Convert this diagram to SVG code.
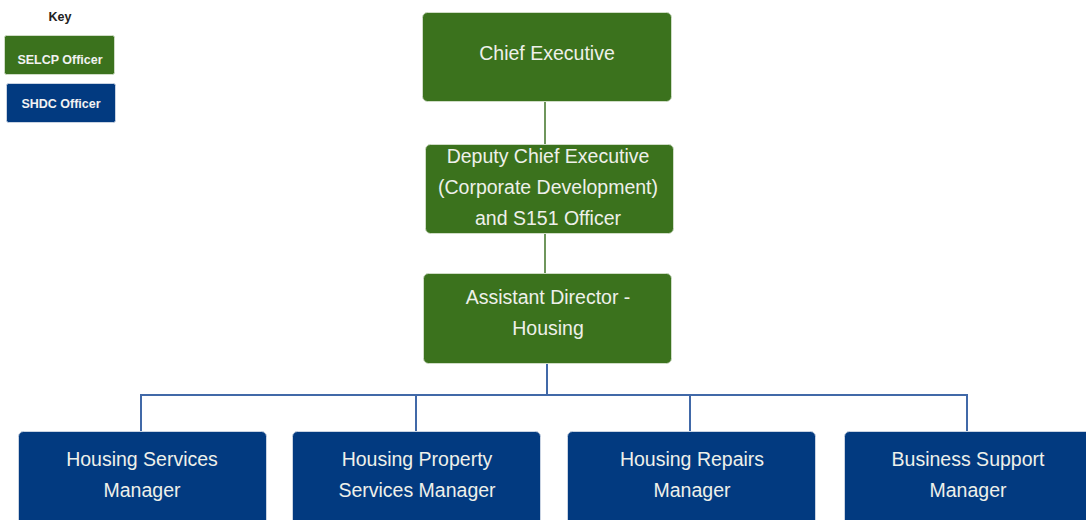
<svg xmlns="http://www.w3.org/2000/svg" width="1086" height="520" viewBox="0 0 1086 520">
<style>
.g{fill:#3b721d;stroke:#cfdcc6;stroke-width:1}
.b{fill:#023a80;stroke:#c9d3e2;stroke-width:1}
.t{font-family:"Liberation Sans",Arial,sans-serif;font-size:19.5px;fill:#eef0ea;text-anchor:middle}
.k{font-family:"Liberation Sans",Arial,sans-serif;font-size:12.5px;font-weight:bold;fill:#f2f2f2;text-anchor:middle}
.gl{stroke:#3f7326;stroke-width:1.5;fill:none}
.bl{stroke:#4169a8;stroke-width:2;fill:none}
</style>
<rect width="1086" height="520" fill="#ffffff"/>
<g id="key">
<text x="60" y="21" font-family="'Liberation Sans',Arial,sans-serif" font-size="12.5" font-weight="bold" fill="#222" text-anchor="middle">Key</text>
<rect class="g" x="4.5" y="35.5" width="110" height="39" rx="2"/>
<text class="k" x="60" y="64">SELCP Officer</text>
<rect class="b" x="6.5" y="83.5" width="109" height="39" rx="2"/>
<text class="k" x="61" y="108">SHDC Officer</text>
</g>
<g id="connectors">
<line class="gl" x1="545" y1="102" x2="545" y2="144"/>
<line class="gl" x1="545" y1="233" x2="545" y2="274"/>
<polyline class="bl" points="547,356 547,395"/>
<polyline class="bl" points="141,431 141,395 967,395 967,431"/>
<line class="bl" x1="416" y1="395" x2="416" y2="431"/>
<line class="bl" x1="690" y1="395" x2="690" y2="431"/>
</g>
<g id="chief-executive">
<rect class="g" x="422.5" y="12.5" width="249" height="89" rx="5"/>
<text class="t" x="547" y="60">Chief Executive</text>
</g>
<g id="deputy-chief-executive">
<rect class="g" x="425.5" y="144.5" width="248" height="89" rx="5"/>
<text class="t" x="548" y="163">Deputy Chief Executive</text>
<text class="t" x="548" y="194">(Corporate Development)</text>
<text class="t" x="548" y="225">and S151 Officer</text>
</g>
<g id="assistant-director">
<rect class="g" x="423.5" y="273.5" width="248" height="90" rx="5"/>
<text class="t" x="548" y="304">Assistant Director -</text>
<text class="t" x="548" y="335">Housing</text>
</g>
<g id="housing-services-manager">
<rect class="b" x="18.5" y="431.5" width="248" height="95" rx="5"/>
<text class="t" x="142" y="466">Housing Services</text>
<text class="t" x="142" y="497">Manager</text>
</g>
<g id="housing-property-services-manager">
<rect class="b" x="292.5" y="431.5" width="248" height="95" rx="5"/>
<text class="t" x="417" y="466">Housing Property</text>
<text class="t" x="417" y="497">Services Manager</text>
</g>
<g id="housing-repairs-manager">
<rect class="b" x="567.5" y="431.5" width="248" height="95" rx="5"/>
<text class="t" x="692" y="466">Housing Repairs</text>
<text class="t" x="692" y="497">Manager</text>
</g>
<g id="business-support-manager">
<rect class="b" x="844.5" y="431.5" width="248" height="95" rx="5"/>
<text class="t" x="968" y="466">Business Support</text>
<text class="t" x="968" y="497">Manager</text>
</g>
</svg>
